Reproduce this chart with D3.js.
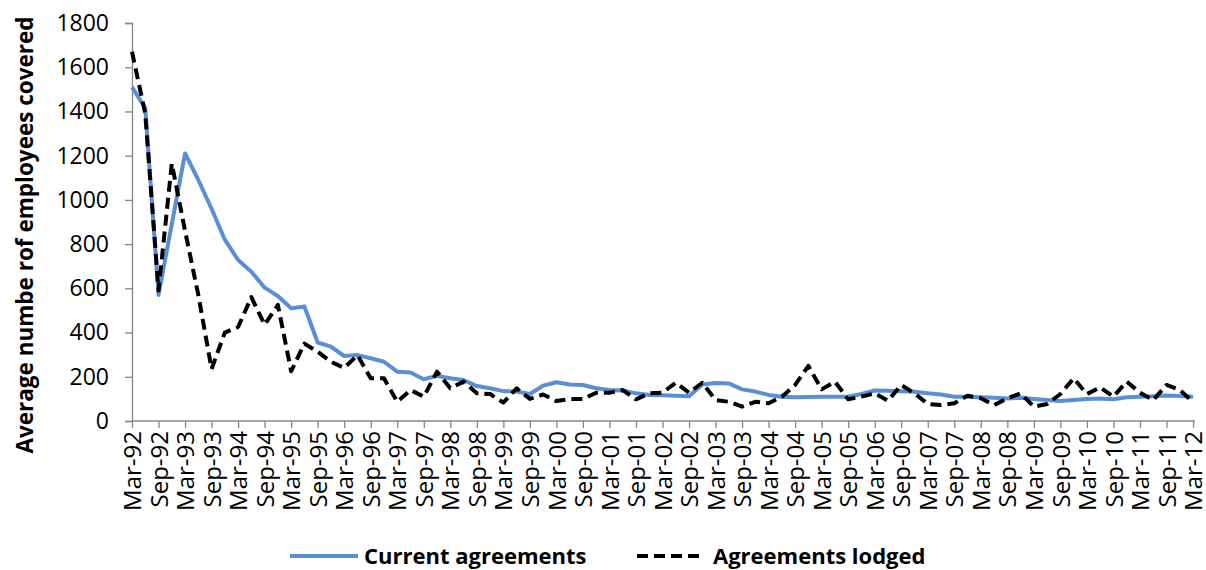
<!DOCTYPE html>
<html>
<head>
<meta charset="utf-8">
<script src="https://cdn.jsdelivr.net/npm/d3@7"></script>
<style>
  body { margin: 0; background: #fff; }
  svg { display: block; font-family: "Open Sans", sans-serif; }
</style>
</head>
<body>
<div id="chart"></div>
<script>
// quarterly values, Mar-92 .. Mar-12 (81 quarters)
var currentAgreements = [
  1510, 1415, 570, 890, 1210, 1090, 960, 820, 728, 675,
  603, 565, 510, 518, 355, 336, 294, 298, 284, 268,
  223, 219, 189, 204, 193, 185, 158, 148, 135, 133,
  122, 160, 175, 165, 163, 148, 140, 138, 125, 118,
  116, 114, 112, 165, 172, 170, 143, 133, 118, 110,
  107, 108, 110, 110, 110, 122, 138, 137, 135, 132,
  125, 120, 110, 110, 107, 105, 102, 105, 100, 95,
  90, 95, 100, 102, 98, 107, 110, 112, 115, 113,
  110
];
var agreementsLodged = [
  1670, 1390, 590, 1165, 860, 570, 235, 400, 425, 560,
  435, 525, 225, 350, 313, 268, 240, 298, 193, 193,
  87, 140, 110, 223, 148, 178, 125, 122, 83, 148,
  100, 120, 90, 99, 99, 128, 128, 140, 98, 125,
  128, 173, 128, 173, 95, 87, 65, 87, 80, 110,
  163, 249, 143, 178, 98, 110, 125, 92, 163, 125,
  77, 72, 80, 114, 103, 72, 103, 125, 65, 77,
  122, 193, 122, 152, 110, 178, 128, 95, 163, 140,
  87
];
// one label every second quarter
var tickLabels = [
  "Mar-92", "Sep-92", "Mar-93", "Sep-93", "Mar-94", "Sep-94", "Mar-95", "Sep-95",
  "Mar-96", "Sep-96", "Mar-97", "Sep-97", "Mar-98", "Sep-98", "Mar-99", "Sep-99",
  "Mar-00", "Sep-00", "Mar-01", "Sep-01", "Mar-02", "Sep-02", "Mar-03", "Sep-03",
  "Mar-04", "Sep-04", "Mar-05", "Sep-05", "Mar-06", "Sep-06", "Mar-07", "Sep-07",
  "Mar-08", "Sep-08", "Mar-09", "Sep-09", "Mar-10", "Sep-10", "Mar-11", "Sep-11",
  "Mar-12"
];
var yTicks = [0, 200, 400, 600, 800, 1000, 1200, 1400, 1600, 1800];

var w = 1206, h = 570;
var plotL = 132, plotR = 1193, plotT = 23, plotB = 421;
var blue = "#5a8fd6";
var axisGrey = "#868686";

var svg = d3.select("#chart").append("svg")
    .attr("width", w)
    .attr("height", h);

var x = d3.scaleLinear().domain([0, currentAgreements.length - 1]).range([plotL, plotR]);
var y = d3.scaleLinear().domain([0, 1800]).range([plotB, plotT]);

//y axis
var yAxis = svg.append("g")
    .attr("transform", "translate(" + plotL + ",0)")
    .call(d3.axisLeft(y).tickValues(yTicks).tickSize(7).tickPadding(16).tickFormat(d3.format("d")))
    .attr("font-family", null)
    .attr("font-size", null);
yAxis.selectAll("text").style("font-size", "23px").attr("fill", "#000");

//x axis, ticks every second quarter
var xIdx = tickLabels.map(function (d, i) { return i * 2; });
var xAxis = svg.append("g")
    .attr("transform", "translate(0," + plotB + ")")
    .call(d3.axisBottom(x).tickValues(xIdx).tickSize(7).tickSizeOuter(0)
        .tickFormat(function (d) { return tickLabels[d / 2]; }))
    .attr("font-family", null)
    .attr("font-size", null);
xAxis.select(".domain").attr("d", "M" + plotL + ",0H" + (plotR + 2));
xAxis.selectAll("text")
    .style("font-size", "24px")
    .attr("fill", "#000")
    .attr("text-anchor", "end")
    .attr("transform", "rotate(-90)")
    .attr("x", -10)
    .attr("y", 0)
    .attr("dy", "0.36em");

svg.selectAll(".domain, .tick line").attr("stroke", axisGrey).attr("stroke-width", 1.3);

//y axis title
svg.append("text")
    .attr("transform", "translate(33,235) rotate(-90)")
    .attr("text-anchor", "middle")
    .style("font-size", "22.5px")
    .style("font-weight", "bold")
    .text("Average numbe rof employees covered");

var line = d3.line()
    .x(function (d, i) { return x(i); })
    .y(function (d) { return y(d); });

svg.append("path")
    .datum(currentAgreements)
    .attr("d", line)
    .attr("fill", "none")
    .attr("stroke", blue)
    .attr("stroke-width", 4)
    .attr("stroke-linejoin", "round");

svg.append("path")
    .datum(agreementsLodged)
    .attr("d", line)
    .attr("fill", "none")
    .attr("stroke", "#000")
    .attr("stroke-width", 4)
    .attr("stroke-dasharray", "11,6")
    .attr("stroke-linejoin", "round");

//legend
var legend = svg.append("g").style("font-size", "22px").style("font-weight", "bold");
legend.append("line").attr("x1", 290).attr("x2", 358).attr("y1", 556).attr("y2", 556)
    .attr("stroke", blue).attr("stroke-width", 4);
legend.append("text").attr("x", 364).attr("y", 564).text("Current agreements");
legend.append("line").attr("x1", 637).attr("x2", 703).attr("y1", 556).attr("y2", 556)
    .attr("stroke", "#000").attr("stroke-width", 4).attr("stroke-dasharray", "11,6");
legend.append("text").attr("x", 713).attr("y", 564).text("Agreements lodged");
</script>
</body>
</html>
